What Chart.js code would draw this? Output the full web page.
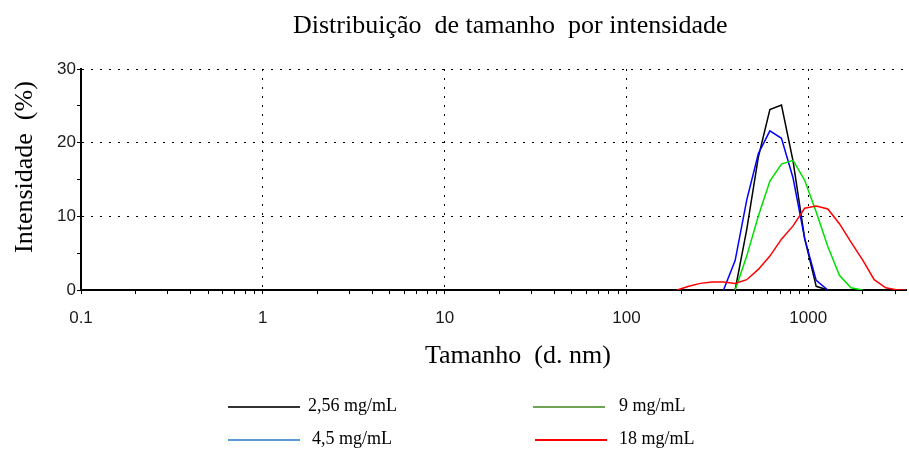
<!DOCTYPE html>
<html>
<head>
<meta charset="utf-8">
<script src="https://cdn.jsdelivr.net/npm/chart.js@4.4.0/dist/chart.umd.min.js"></script>
<style>
  body { margin: 0; background: #fff; overflow: hidden; }
  #wrap { position: relative; width: 909px; height: 450px; }
  #myChart { position: absolute; left: 0; top: 0; }
  .txt { position: absolute; white-space: pre; font-family: "Liberation Serif", serif; color: #000; }
  #title { left: 293px; top: 12px; font-size: 26px; line-height: 26px; }
  #xtitle { left: 425px; top: 342px; font-size: 26px; line-height: 26px; }
  #ytitle { left: 11px; top: 253px; font-size: 26px; line-height: 26px;
            transform: rotate(-90deg); transform-origin: left top; }
  .leg { font-size: 18px; line-height: 18px; }
  .swatch { position: absolute; width: 72px; height: 0; border-top: 2px solid; }
</style>
</head>
<body>
<div id="wrap">
  <canvas id="myChart" width="909" height="450"></canvas>
  <div id="title" class="txt">Distribuição  de tamanho  por intensidade</div>
  <div id="xtitle" class="txt">Tamanho  (d. nm)</div>
  <div id="ytitle" class="txt">Intensidade  (%)</div>
  <div id="legend"></div>
</div>
<script>
// size bins (d. nm) and intensity (%) for each concentration
const sizes = [190.1, 220.2, 255.0, 295.3, 342.0, 396.1, 458.7, 531.2, 615.1, 712.4, 825.0,
               955.4, 1106, 1281, 1484, 1718, 1990, 2305, 2669, 3091, 3580];
const conc256 = [null, null, null, null, null, 0, 8.2, 18.0, 24.5, 25.1, 17.5,
                 7.0, 0.5, 0, null, null, null, null, null, null, null];
const conc45 = [null, null, null, null, 0, 4.0, 12.2, 18.5, 21.6, 20.6, 15.2,
                7.0, 1.3, 0, null, null, null, null, null, null, null];
const conc9 = [null, null, null, null, null, 0, 4.6, 10.0, 14.8, 17.1, 17.6,
               14.9, 10.6, 5.9, 2.0, 0.3, 0, null, null, null, null];
const conc18 = [0, 0.5, 0.9, 1.1, 1.1, 0.9, 1.4, 2.8, 4.6, 6.9, 8.7,
                11.1, 11.4, 11.0, 9.0, 6.5, 4.1, 1.4, 0.3, 0, 0];

const xTicks = [0.1, 0.2, 0.3, 0.4, 0.5, 0.6, 0.7, 0.8, 0.9,
                1, 2, 3, 4, 5, 6, 7, 8, 9,
                10, 20, 30, 40, 50, 60, 70, 80, 90,
                100, 200, 300, 400, 500, 600, 700, 800, 900,
                1000, 2000, 3000];
const xMin = 0.1, xMax = 3450;
const yMin = 0, yMax = 30;

const legendItems = [
  { label: '2,56 mg/mL', color: '#333333', x: 228, y: 406, tx: 308, ty: 396 },
  { label: '9 mg/mL', color: '#70a455', x: 533, y: 406, tx: 619, ty: 396 },
  { label: '4,5 mg/mL', color: '#5b9bd5', x: 228, y: 439, tx: 312, ty: 429 },
  { label: '18 mg/mL', color: '#ff0000', x: 535, y: 439, tx: 619, ty: 429 }
];

function series(vals) {
  return sizes.map((s, i) => ({ x: s, y: vals[i] }));
}
function isDecade(v) {
  const l = Math.log10(v);
  return Math.abs(l - Math.round(l)) < 1e-6;
}

Chart.defaults.font.family = 'Liberation Sans';
Chart.defaults.color = '#1a1a1a';

const ctx = document.getElementById('myChart').getContext('2d');
const chart = new Chart(ctx, {
  type: 'line',
  data: {
    datasets: [
      { label: '18 mg/mL', data: series(conc18), borderColor: '#ff0000' },
      { label: '9 mg/mL', data: series(conc9), borderColor: '#00e000' },
      { label: '4,5 mg/mL', data: series(conc45), borderColor: '#0000ff' },
      { label: '2,56 mg/mL', data: series(conc256), borderColor: '#000000' }
    ]
  },
  options: {
    responsive: false,
    animation: false,
    spanGaps: false,
    elements: {
      line: { borderWidth: 1.5, tension: 0, fill: false },
      point: { radius: 0 }
    },
    layout: { autoPadding: false, padding: { top: 69, bottom: 80, left: 0, right: 0 } },
    plugins: {
      legend: { display: false },
      title: { display: false },
      tooltip: { enabled: false }
    },
    scales: {
      x: {
        type: 'logarithmic',
        min: xMin,
        max: xMax,
        afterBuildTicks: s => { s.ticks = xTicks.map(v => ({ value: v })); },
        afterFit: s => { s.height = 80; },
        ticks: {
          autoSkip: false,
          maxRotation: 0,
          padding: 14,
          font: { size: 17 },
          callback: v => isDecade(v) ? String(v) : ''
        },
        grid: {
          color: c => isDecade(c.tick.value) && c.tick.value > xMin ? '#000' : 'rgba(0,0,0,0)',
          lineWidth: 1,
          tickColor: '#000',
          tickLength: 4,
          tickBorderDash: []
        },
        border: { color: '#000', width: 2, dash: [2, 7] }
      },
      y: {
        min: yMin,
        max: yMax,
        afterFit: s => { s.width = 81; },
        ticks: {
          stepSize: 5,
          padding: 1,
          font: { size: 17 },
          callback: v => v % 10 === 0 ? String(v) : ''
        },
        grid: {
          color: c => c.tick.value % 10 === 0 && c.tick.value > 0 ? '#000' : 'rgba(0,0,0,0)',
          lineWidth: 1,
          tickColor: '#000',
          tickLength: 4,
          tickBorderDash: []
        },
        border: { color: '#000', width: 2, dash: [2, 7] }
      }
    }
  }
});

// legend below the chart
const leg = document.getElementById('legend');
legendItems.forEach(it => {
  const sw = document.createElement('div');
  sw.className = 'swatch';
  sw.style.left = it.x + 'px';
  sw.style.top = it.y + 'px';
  sw.style.borderColor = it.color;
  leg.appendChild(sw);
  const t = document.createElement('div');
  t.className = 'txt leg';
  t.style.left = it.tx + 'px';
  t.style.top = it.ty + 'px';
  t.textContent = it.label;
  leg.appendChild(t);
});
</script>
</body>
</html>
